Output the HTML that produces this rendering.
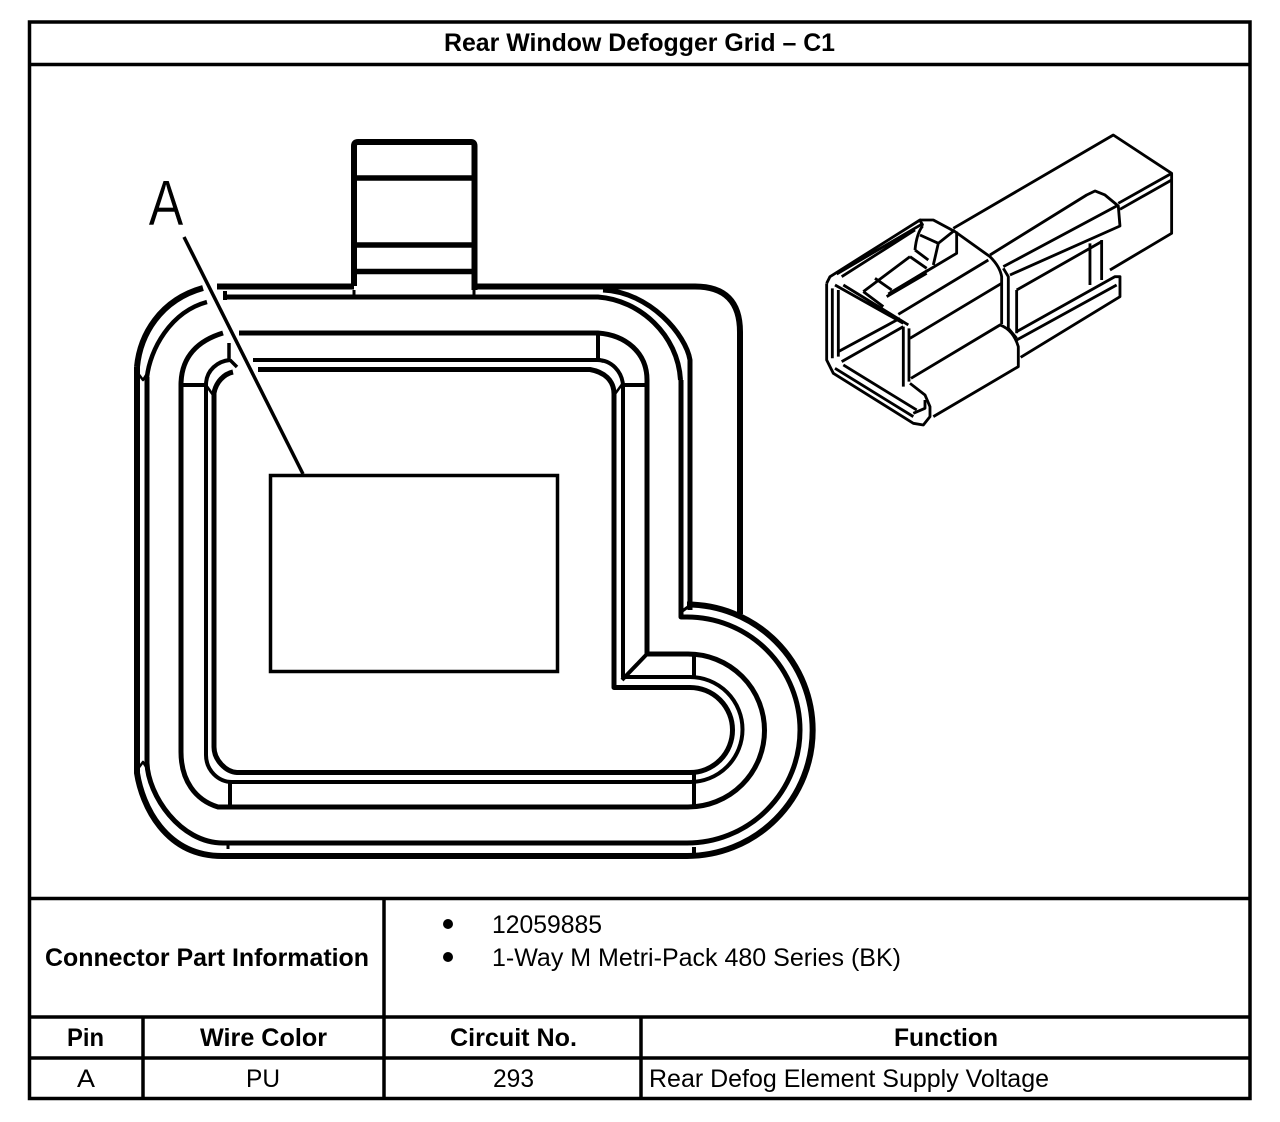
<!DOCTYPE html>
<html><head><meta charset="utf-8"><style>
html,body{margin:0;padding:0;background:#fff}
svg{display:block}
text{font-family:"Liberation Sans",sans-serif;fill:#000}
.b{font-weight:bold;font-size:25px}
.r{font-size:25px}
</style></head><body>
<svg width="1280" height="1122" viewBox="0 0 1280 1122" xmlns="http://www.w3.org/2000/svg">
<rect width="1280" height="1122" fill="#fff"/>
<!-- table -->
<g fill="none" stroke="#000" stroke-width="3.5">
<rect x="29.5" y="22" width="1220.5" height="1076.5"/>
<path d="M29 64.5H1250M29 898.5H1250M29 1017H1250M29 1058H1250M384 898V1098M143 1017V1098M641 1017V1098"/>
</g>
<text class="b" x="444" y="51" textLength="391" lengthAdjust="spacingAndGlyphs">Rear Window Defogger Grid – C1</text>
<text class="b" x="45" y="966" textLength="324" lengthAdjust="spacingAndGlyphs">Connector Part Information</text>
<circle cx="448" cy="924" r="5"/><circle cx="448" cy="957" r="5"/>
<text class="r" x="492" y="933" textLength="110" lengthAdjust="spacingAndGlyphs">12059885</text>
<text class="r" x="492" y="966" textLength="409" lengthAdjust="spacingAndGlyphs">1-Way M Metri-Pack 480 Series (BK)</text>
<text class="b" x="67" y="1046" textLength="37" lengthAdjust="spacingAndGlyphs">Pin</text>
<text class="b" x="200" y="1046" textLength="127" lengthAdjust="spacingAndGlyphs">Wire Color</text>
<text class="b" x="450" y="1046" textLength="127" lengthAdjust="spacingAndGlyphs">Circuit No.</text>
<text class="b" x="894" y="1046" textLength="104" lengthAdjust="spacingAndGlyphs">Function</text>
<text class="r" x="77" y="1087" textLength="18" lengthAdjust="spacingAndGlyphs">A</text>
<text class="r" x="246" y="1087" textLength="34" lengthAdjust="spacingAndGlyphs">PU</text>
<text class="r" x="493" y="1087" textLength="41" lengthAdjust="spacingAndGlyphs">293</text>
<text class="r" x="649" y="1087" textLength="400" lengthAdjust="spacingAndGlyphs">Rear Defog Element Supply Voltage</text>
<!-- callout -->
<text x="148.5" y="225" font-size="64" textLength="35" lengthAdjust="spacingAndGlyphs" stroke="#fff" stroke-width=".6">A</text>
<path d="M184 237L303 474" fill="none" stroke="#000" stroke-width="3.5"/>
<rect x="270.5" y="475.5" width="287" height="196" fill="none" stroke="#000" stroke-width="3.5"/>
<!-- seal outline -->
<g fill="none" stroke="#000" stroke-linecap="butt" stroke-linejoin="round">
<!-- tab -->
<path d="M354 286V146Q354 142 358 142H471Q474.5 142 474.5 146V290" stroke-width="6"/>
<path d="M355 178H474M355 245H474M355 271.5H474" stroke-width="5.5"/>
<path d="M354 290V297M474 290V297" stroke-width="3"/>
<!-- outer line -->
<path d="M217 286.5H354M476 286.5H695Q740 286.5 740 332V614" stroke-width="6"/>
<path d="M137 367V773C142 805 165 856 222 856H687A125.75 125.75 0 0 0 687 604.5" stroke-width="6"/>
<path d="M137 367C140 335 160 300 203 288" stroke-width="6"/>
<path d="M147 377V763C148 795 180 843 223 843H687A113 113 0 0 0 687 617H681V380" stroke-width="5"/>
<path d="M147 377C150 350 170 312 207 302" stroke-width="4.5"/>
<path d="M224 297H598C640 300 678 335 680.5 380" stroke-width="5"/>
<path d="M603 290C650 292 686 335 690 360V610" stroke-width="5"/>
<path d="M137 372L143 380L148 372M137 770L143 762L148 770" stroke-width="2.5"/>
<path d="M225 291V300" stroke-width="4"/>
<path d="M228 843V849" stroke-width="3"/>
<path d="M694 847V857" stroke-width="4"/>
<path d="M681 612L692 604" stroke-width="3"/>
<!-- mid line -->
<path d="M239 333H598C625 335 647 352 647 380V654H688A76.5 76.5 0 0 1 688 807H218C195 800 181 780 181 752V385C181 355 200 340 223 333" stroke-width="5"/>
<path d="M181 385H207M622 385H647M598 333V360M694 655V677M694 773V807M230 782V807" stroke-width="4"/>
<path d="M646 655L622 680" stroke-width="4"/>
<!-- inner lines -->
<path d="M253 360H597C612 360 622 372 623 385V677H690A52.5 52.5 0 0 1 690 782H232C218 782 206 770 206 755V385C206 370 218 361 230 360" stroke-width="4"/>
<path d="M258 369.5H590C604 372 614 380 614 394V687.5H690A42.5 42.5 0 0 1 690 772.5H237C226 772 214 760 214 747V393C216 382 224 374 233 372" stroke-width="5"/>
<path d="M229 343V360M230 360L237 367" stroke-width="3.5"/>
<path d="M597 357L603 362M206 385L213 395M623 383L615 394" stroke-width="2.5"/>
</g>
<!-- connector -->
<g transform="translate(800 120) scale(.3333)" fill="none" stroke="#000" stroke-width="8.5" stroke-linejoin="round">
<path d="M460 325L940 45L1115 160V340L930 450"/>
<path d="M1115 160L955 250M1115 180L960 268"/>
<path d="M360 300H400L465 335L570 410Q600 440 605 470V612"/>
<path d="M570 405L860 225L885 213L915 225L955 258L960 318L630 465"/>
<path d="M610 440L950 258M610 445L625 470V625L650 655"/>
<path d="M650 510L905 365M650 510V640M870 370V495M905 360V480"/>
<path d="M650 635L945 470H960V530L662 712M650 660L950 495"/>
<path d="M330 655L605 490M295 583L565 420M333 775L600 615Q640 630 655 680V740L400 890"/>
<path d="M80 490L90 470L360 300L368 318M110 462L370 310M125 470L345 330"/>
<path d="M80 490V720L100 760L340 910L370 915L390 890V860L375 825L330 790"/>
<path d="M97 505V715M115 510V710M105 495L310 610M130 495L325 615"/>
<path d="M310 620V800M327 625V785M340 880L375 865V840"/>
<path d="M115 695L300 595M125 725L310 620"/>
<path d="M130 735L350 870M105 745L340 890"/>
<path d="M345 390Q350 340 368 318M360 345L415 370L400 435M345 390L385 420M330 410L380 445M470 335V400L265 522M415 370L465 330"/>
<path d="M190 515L330 410M225 475L275 510M190 515L250 560M270 520L385 450M260 530L380 460"/>
</g>
</svg>
</body></html>
